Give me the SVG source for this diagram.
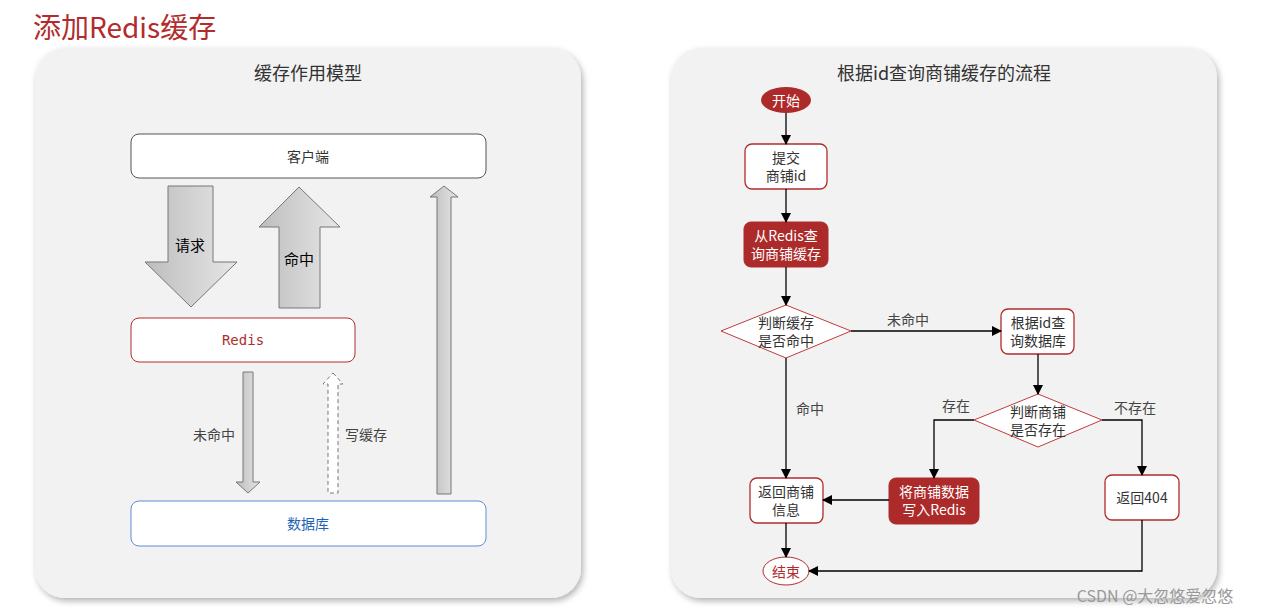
<svg xmlns="http://www.w3.org/2000/svg" width="1267" height="614" viewBox="0 0 1267 614">
<defs>
<linearGradient id="g" x1="0" y1="0" x2="1" y2="0"><stop offset="0" stop-color="#bdbdbd"/><stop offset="1" stop-color="#e6e6e6"/></linearGradient>
<filter id="sh" x="-5%" y="-5%" width="110%" height="110%"><feDropShadow dx="2" dy="3" stdDeviation="3" flood-color="#000" flood-opacity="0.3"/></filter>
<marker id="ar" markerWidth="10" markerHeight="10" refX="9" refY="5" orient="auto" markerUnits="userSpaceOnUse"><path d="M0,0 L10,5 L0,10 Z" fill="#000"/></marker>
<style>
text{font-family:"Noto Sans CJK SC","Liberation Sans",sans-serif;text-anchor:middle;dominant-baseline:central}
.panel{fill:#f2f2f2;filter:url(#sh)}
.pt{font-size:18px;fill:#333}
.box{fill:#fff;stroke:#b22c2c;stroke-width:1.3}
.rbox{fill:#ad2a2a;stroke:#ad2a2a}
.t{font-size:14px;fill:#333}
.w{font-size:14px;fill:#fff}
.big{fill:url(#g);stroke:#777;stroke-width:1}
.c{fill:none;stroke:#000;stroke-width:1.3;marker-end:url(#ar)}
.lb{font-size:14px;fill:#444}
</style>
</defs>
<text x="33" y="26" style="text-anchor:start;font-size:28px;fill:#b22c2c">添加Redis缓存</text>
<rect class="panel" x="35" y="48" width="546" height="550" rx="30"/>
<rect class="panel" x="671" y="48" width="546" height="550" rx="30"/>
<text class="pt" x="308" y="72">缓存作用模型</text>
<text class="pt" x="944" y="72">根据id查询商铺缓存的流程</text>
<g id="client"><rect x="131" y="134" width="355" height="44" rx="8" fill="#fff" stroke="#555"/><text class="t" x="308" y="156">客户端</text></g>
<g id="redis"><rect x="131" y="318" width="224" height="44" rx="8" fill="#fff" stroke="#b22c2c"/><text x="243" y="340" style="font-family:'DejaVu Sans Mono',monospace;font-size:14px;fill:#b22c2c">Redis</text></g>
<g id="db"><rect x="131" y="501" width="355" height="45" rx="8" fill="#fff" stroke="#5b8fd0"/><text x="308" y="523" style="font-size:14px;fill:#1f63b5">数据库</text></g>
<g id="left-arrows">
<path class="big" d="M168,186 H213 V262 H237 L191,307 L145,262 H168 Z"/>
<text x="190" y="244" style="font-size:15px;fill:#000">请求</text>
<path class="big" d="M299,187 L340,227 H320 V308 H279 V227 H259 Z"/>
<text x="299" y="258" style="font-size:15px;fill:#000">命中</text>
<path class="big" d="M444,186 L458,197 H451 V494 H437 V197 H430 Z"/>
<path class="big" d="M243,372 H253 V482 H260 L248,493 L236,482 H243 Z"/>
<text class="lb" x="214" y="434">未命中</text>
<path d="M333,373 L343,384 H338 V493 H328 V384 H323 Z" fill="#fff" stroke="#777" stroke-dasharray="4,3"/>
<text class="lb" x="366" y="434">写缓存</text>
</g>
<g id="start"><ellipse cx="786" cy="100" rx="25" ry="13" fill="#ad2a2a"/><text class="w" x="786" y="100">开始</text></g>
<g id="submit"><rect class="box" x="745" y="144" width="82" height="45" rx="7"/><text class="t" x="786" y="157">提交</text><text class="t" x="786" y="175">商铺id</text></g>
<g id="query"><rect class="rbox" x="744" y="222" width="84" height="45" rx="7"/><text class="w" x="786" y="235">从Redis查</text><text class="w" x="786" y="253">询商铺缓存</text></g>
<g id="d1"><path d="M721,331 L786,305 L851,331 L786,358 Z" fill="#fff" stroke="#c23a3a"/><text class="t" x="786" y="322">判断缓存</text><text class="t" x="786" y="340">是否命中</text></g>
<g id="dbq"><rect class="box" x="1001" y="309" width="73" height="45" rx="7"/><text class="t" x="1038" y="322">根据id查</text><text class="t" x="1038" y="340">询数据库</text></g>
<g id="d2"><path d="M974,420 L1038,394 L1102,420 L1038,447 Z" fill="#fff" stroke="#c23a3a"/><text class="t" x="1038" y="411">判断商铺</text><text class="t" x="1038" y="429">是否存在</text></g>
<g id="ret"><rect class="box" x="750" y="478" width="73" height="45" rx="7"/><text class="t" x="786" y="491">返回商铺</text><text class="t" x="786" y="509">信息</text></g>
<g id="write"><rect class="rbox" x="889" y="478" width="90" height="46" rx="7"/><text class="w" x="934" y="491">将商铺数据</text><text class="w" x="934" y="509">写入Redis</text></g>
<g id="r404"><rect class="box" x="1105" y="475" width="74" height="45" rx="7"/><text class="t" x="1142" y="497">返回404</text></g>
<g id="end"><ellipse cx="786" cy="571" rx="23" ry="14" fill="#fff" stroke="#b22c2c"/><text x="786" y="571" style="font-size:14px;fill:#b22c2c">结束</text></g>
<g id="connectors">
<path class="c" d="M786,113 V144"/>
<path class="c" d="M786,189 V222"/>
<path class="c" d="M786,267 V305"/>
<path class="c" d="M786,358 V478"/>
<path class="c" d="M851,331 H1001"/>
<path class="c" d="M1038,354 V394"/>
<path class="c" d="M974,420 H934 V478"/>
<path class="c" d="M1102,420 H1142 V475"/>
<path class="c" d="M889,500 H823"/>
<path class="c" d="M786,523 V557"/>
<path class="c" d="M1142,520 V571 H809"/>
<text class="lb" x="908" y="319">未命中</text>
<text class="lb" x="810" y="408">命中</text>
<text class="lb" x="956" y="405">存在</text>
<text class="lb" x="1135" y="407">不存在</text>
</g>
<text x="1155" y="595" style="font-size:16px;fill:#999">CSDN @大忽悠爱忽悠</text>
</svg>
